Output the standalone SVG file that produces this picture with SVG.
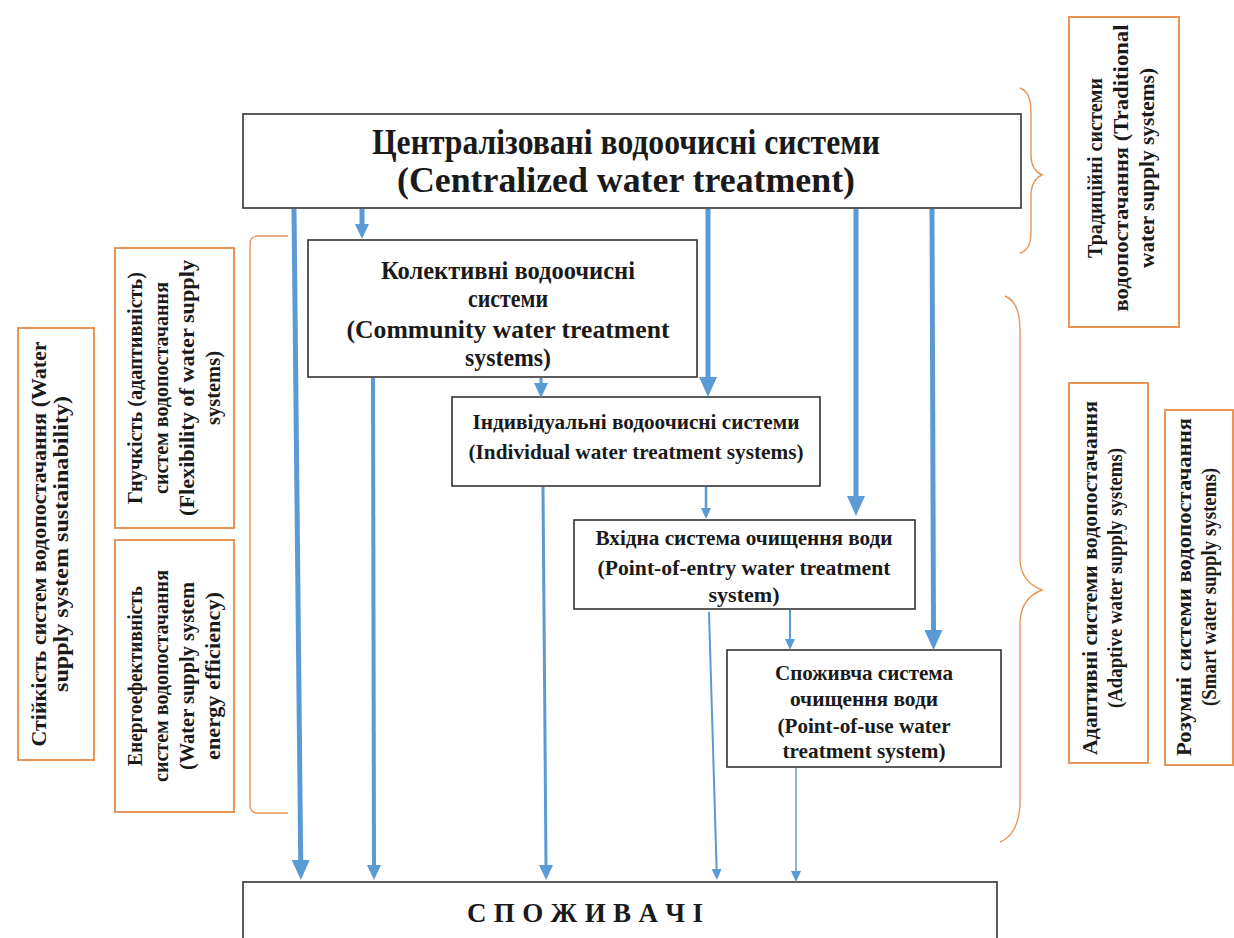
<svg xmlns="http://www.w3.org/2000/svg" width="1234" height="938" viewBox="0 0 1234 938">
<style>
.bx{fill:#fff;stroke:#333;stroke-width:1.6}
.ob{fill:#fff;stroke:#E8955A;stroke-width:2}
.br{fill:none;stroke:#E8955A;stroke-width:1.4}
.t{font-family:"Liberation Serif","Times New Roman",serif;font-weight:bold;fill:#1a1a1a;text-anchor:middle}
.a{fill:none;stroke:#5B9BD5}
</style>
<defs>
<marker id="hL" markerUnits="userSpaceOnUse" markerWidth="20" markerHeight="18" refX="0" refY="9" orient="auto"><path d="M0,0 L20,9 L0,18 z" fill="#5B9BD5"/></marker>
<marker id="hM" markerUnits="userSpaceOnUse" markerWidth="15" markerHeight="14" refX="0" refY="7" orient="auto"><path d="M0,0 L15,7 L0,14 z" fill="#5B9BD5"/></marker>
<marker id="hS" markerUnits="userSpaceOnUse" markerWidth="11" markerHeight="10" refX="0" refY="5" orient="auto"><path d="M0,0 L11,5 L0,10 z" fill="#5B9BD5"/></marker>
</defs>
<rect width="1234" height="938" fill="#fff"/>

<g id="bracket-left"><path class="br" d="M288,236 L258,236 Q250,236 250,244 L250,805 Q250,813 258,813 L288,813"/></g>
<g id="brace-top"><path class="br" d="M1020,88 Q1031,92 1031,112 L1031,155 Q1031,170 1042,175 Q1031,180 1031,196 L1031,232 Q1031,250 1020,253"/></g>
<g id="brace-bottom"><path class="br" d="M1005,296 Q1020,302 1020,330 L1020,560 Q1021,582 1042,590 Q1021,598 1020,622 L1020,805 Q1018,835 1000,842"/></g>

<g id="sustainability"><rect class="ob" x="18" y="328" width="76" height="432"/>
<g transform="translate(50,544) rotate(-90)"><text class="t" x="0" y="-4" font-size="21" textLength="405" lengthAdjust="spacingAndGlyphs">Стійкість систем водопостачання (Water</text><text class="t" x="0" y="18" font-size="21" textLength="296" lengthAdjust="spacingAndGlyphs">supply system sustainability)</text></g></g>

<g id="flexibility"><rect class="ob" x="115" y="248" width="119" height="280"/>
<g transform="translate(173,388) rotate(-90)"><text class="t" x="0" y="-31" font-size="20" textLength="232" lengthAdjust="spacingAndGlyphs">Гнучкість (адаптивність)</text><text class="t" x="0" y="-5" font-size="20" textLength="212" lengthAdjust="spacingAndGlyphs">систем водопостачання</text><text class="t" x="0" y="21" font-size="20" textLength="256" lengthAdjust="spacingAndGlyphs">(Flexibility of water supply</text><text class="t" x="0" y="47" font-size="20" textLength="74" lengthAdjust="spacingAndGlyphs">systems)</text></g></g>

<g id="efficiency"><rect class="ob" x="115" y="540" width="119" height="272"/>
<g transform="translate(173,676) rotate(-90)"><text class="t" x="0" y="-31" font-size="20" textLength="180" lengthAdjust="spacingAndGlyphs">Енергоефективність</text><text class="t" x="0" y="-5" font-size="20" textLength="212" lengthAdjust="spacingAndGlyphs">систем водопостачання</text><text class="t" x="0" y="21" font-size="20" textLength="188" lengthAdjust="spacingAndGlyphs">(Water supply system</text><text class="t" x="0" y="47" font-size="20" textLength="168" lengthAdjust="spacingAndGlyphs">energy efficiency)</text></g></g>

<g id="traditional"><rect class="ob" x="1069" y="17" width="110" height="310"/>
<g transform="translate(1123,168) rotate(-90)"><text class="t" x="0" y="-21" font-size="21" textLength="180" lengthAdjust="spacingAndGlyphs">Традиційні системи</text><text class="t" x="0" y="5" font-size="21" textLength="287" lengthAdjust="spacingAndGlyphs">водопостачання (Traditional</text><text class="t" x="0" y="31" font-size="21" textLength="200" lengthAdjust="spacingAndGlyphs">water supply systems)</text></g></g>

<g id="adaptive"><rect class="ob" x="1069" y="383" width="79" height="380"/>
<g transform="translate(1104,578) rotate(-90)"><text class="t" x="0" y="-7" font-size="21" textLength="354" lengthAdjust="spacingAndGlyphs">Адаптивні системи водопостачання</text><text class="t" x="0" y="18" font-size="21" textLength="260" lengthAdjust="spacingAndGlyphs">(Adaptive water supply systems)</text></g></g>

<g id="smart"><rect class="ob" x="1165" y="410" width="68" height="355"/>
<g transform="translate(1199,587) rotate(-90)"><text class="t" x="0" y="-8" font-size="21" textLength="338" lengthAdjust="spacingAndGlyphs">Розумні системи водопостачання</text><text class="t" x="0" y="17" font-size="21" textLength="238" lengthAdjust="spacingAndGlyphs">(Smart water supply systems)</text></g></g>

<g id="centralized"><rect class="bx" x="243" y="114" width="778" height="94"/>
<text class="t" x="626" y="154" font-size="36" textLength="508" lengthAdjust="spacingAndGlyphs">Централізовані водоочисні системи</text>
<text class="t" x="626" y="192" font-size="36" textLength="458" lengthAdjust="spacingAndGlyphs">(Centralized water treatment)</text></g>

<g id="community"><rect class="bx" x="308" y="240" width="389" height="137"/>
<text class="t" x="508" y="279" font-size="26" textLength="254" lengthAdjust="spacingAndGlyphs">Колективні водоочисні</text>
<text class="t" x="508" y="307" font-size="26" textLength="80" lengthAdjust="spacingAndGlyphs">системи</text>
<text class="t" x="508" y="338" font-size="26" textLength="323" lengthAdjust="spacingAndGlyphs">(Community water treatment</text>
<text class="t" x="508" y="366" font-size="26" textLength="86" lengthAdjust="spacingAndGlyphs">systems)</text></g>

<g id="individual"><rect class="bx" x="452" y="397" width="368" height="89"/>
<text class="t" x="636" y="429" font-size="22" textLength="327" lengthAdjust="spacingAndGlyphs">Індивідуальні водоочисні системи</text>
<text class="t" x="636" y="459" font-size="22" textLength="335" lengthAdjust="spacingAndGlyphs">(Individual water treatment systems)</text></g>

<g id="point-of-entry"><rect class="bx" x="574" y="520" width="341" height="89"/>
<text class="t" x="744" y="545" font-size="21" textLength="297" lengthAdjust="spacingAndGlyphs">Вхідна система очищення води</text>
<text class="t" x="744" y="575" font-size="21" textLength="293" lengthAdjust="spacingAndGlyphs">(Point-of-entry water treatment</text>
<text class="t" x="744" y="602" font-size="21" textLength="71" lengthAdjust="spacingAndGlyphs">system)</text></g>

<g id="point-of-use"><rect class="bx" x="727" y="650" width="274" height="117"/>
<text class="t" x="864" y="680" font-size="21" textLength="178" lengthAdjust="spacingAndGlyphs">Споживча система</text>
<text class="t" x="864" y="706" font-size="21" textLength="148" lengthAdjust="spacingAndGlyphs">очищення води</text>
<text class="t" x="864" y="733" font-size="21" textLength="173" lengthAdjust="spacingAndGlyphs">(Point-of-use water</text>
<text class="t" x="864" y="758" font-size="21" textLength="163" lengthAdjust="spacingAndGlyphs">treatment system)</text></g>

<g id="consumers"><rect class="bx" x="243" y="882" width="754" height="70"/>
<text class="t" x="585" y="922" font-size="27" textLength="236" lengthAdjust="spacing">С П О Ж И В А Ч І</text></g>

<g id="connectors">
<path class="a" stroke-width="5" d="M294,209 L300.7,860" marker-end="url(#hL)"/>
<path class="a" stroke-width="5" d="M362,209 L362,224" marker-end="url(#hM)"/>
<path class="a" stroke-width="5" d="M708,209 L708,377" marker-end="url(#hL)"/>
<path class="a" stroke-width="5" d="M856,209 L856,496" marker-end="url(#hL)"/>
<path class="a" stroke-width="5" d="M932,209 L933.5,630" marker-end="url(#hL)"/>
<path class="a" stroke-width="4" d="M373,378 L374,865" marker-end="url(#hM)"/>
<path class="a" stroke-width="3" d="M541,378 L541,383" marker-end="url(#hM)"/>
<path class="a" stroke-width="3" d="M543,487 L546,865" marker-end="url(#hM)"/>
<path class="a" stroke-width="2.5" d="M706,487 L706,508" marker-end="url(#hS)"/>
<path class="a" stroke-width="2" d="M709,612 L716.6,869" marker-end="url(#hS)"/>
<path class="a" stroke-width="2" d="M790,610 L790,639" marker-end="url(#hS)"/>
<path class="a" stroke-width="1.5" d="M796,768 L796,871" marker-end="url(#hS)"/>
</g>
</svg>
